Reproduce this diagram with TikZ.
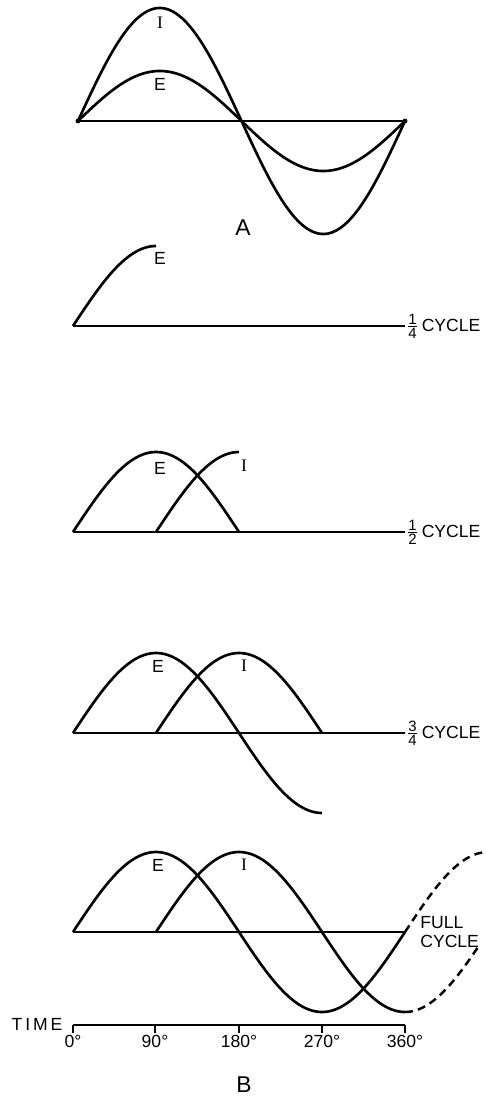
\documentclass[tikz,border=0pt]{standalone}
\usepackage{fontspec}
\setmainfont{Liberation Sans}
\newfontfamily\serifI{Liberation Serif}
\usetikzlibrary{positioning}
\newcommand{\cycfrac}[2]{$\frac{\mbox{\fontsize{8.5}{8.5}\selectfont #1}}{\mbox{\fontsize{8.5}{8.5}\selectfont #2}}$}

\begin{document}
\begin{tikzpicture}[x=0.02cm,y=-0.02cm,
  wave/.style={line width=1.5pt,line join=round},
  ext/.style={line width=1.4pt,dash pattern=on 4.5pt off 3pt},
  axisln/.style={line width=1pt},
  lab/.style={font=\fontsize{10}{10.5}\selectfont,inner sep=0pt},
  big/.style={font=\fontsize{13}{13}\selectfont,inner sep=0pt},
  cyc/.style={lab,anchor=west,align=left}
]
\useasboundingbox (0,0) rectangle (485,1097);

% A: E and I in phase
\coordinate (a0) at (78,121);
\coordinate (a1) at (405,121);
\draw[axisln] (a0) -- (a1);
\fill (a0) circle[radius=1.4pt];
\fill (a1) circle[radius=1.4pt];
\draw[wave] plot[domain=0:360,samples=73,smooth] ({78+\x*0.90833},{121-113*sin(\x)});
\draw[wave] plot[domain=0:360,samples=73,smooth] ({78+\x*0.90833},{121-50*sin(\x)});
\node[lab] (iA) at (160,23) {\serifI I};
\node[lab] (eA) at (160,84) {E};
\node[big] (capA) at (243,228) {A};

% B: quarter cycle
\coordinate (q0) at (73,326);
\coordinate (q1) at (405,326);
\draw[axisln] (q0) -- (q1);
\draw[wave] plot[domain=0:90,samples=19,smooth] ({73+\x*0.92222},{326-80*sin(\x)});
\node[lab] (eQ) at (160,258) {E};
\node[cyc] (cycQ) at (406,326) {\cycfrac14\,CYCLE};

% B: half cycle
\coordinate (h0) at (73,532);
\coordinate (h1) at (405,532);
\draw[axisln] (h0) -- (h1);
\draw[wave] plot[domain=0:180,samples=37,smooth] ({73+\x*0.92222},{532-80*sin(\x)});
\draw[wave] plot[domain=90:180,samples=19,smooth] ({73+\x*0.92222},{532+80*cos(\x)});
\node[lab] (eH) at (160,468) {E};
\node[lab] (iH) at (244,466) {\serifI I};
\node[cyc] (cycH) at (406,532) {\cycfrac12\,CYCLE};

% B: three quarter cycle
\coordinate (t0) at (73,733);
\coordinate (t1) at (405,733);
\draw[axisln] (t0) -- (t1);
\draw[wave] plot[domain=0:270,samples=55,smooth] ({73+\x*0.92222},{733-80*sin(\x)});
\draw[wave] plot[domain=90:270,samples=37,smooth] ({73+\x*0.92222},{733+80*cos(\x)});
\node[lab] (eT) at (158,666) {E};
\node[lab] (iT) at (244,666) {\serifI I};
\node[cyc] (cycT) at (406,733) {\cycfrac34\,CYCLE};

% B: full cycle
\coordinate (f0) at (73,932);
\coordinate (f1) at (405,932);
\draw[axisln] (f0) -- (f1);
\draw[wave] plot[domain=0:360,samples=73,smooth] ({73+\x*0.92222},{932-80*sin(\x)});
\draw[wave] plot[domain=90:360,samples=55,smooth] ({73+\x*0.92222},{932+80*cos(\x)});
\draw[ext] plot[domain=360:444,samples=17,smooth] ({73+\x*0.92222},{932-80*sin(\x)});
\draw[ext] plot[domain=360:441,samples=17,smooth] ({73+\x*0.92222},{932+80*cos(\x)});
\node[lab] (eF) at (158,865) {E};
\node[lab] (iF) at (244,865) {\serifI I};
\node[cyc] (cycF) at (420,932) {FULL\\CYCLE};

% time scale
\coordinate (s0) at (73,1025);
\coordinate (s1) at (405,1025);
\draw[axisln] (s0) -- (s1);
\draw[axisln] (s0) -- ++(0,8) coordinate (k0);
\draw[axisln] (155,1025) coordinate (s90) -- ++(0,8) coordinate (k90);
\draw[axisln] (239,1025) coordinate (s180) -- ++(0,8) coordinate (k180);
\draw[axisln] (322,1025) coordinate (s270) -- ++(0,8) coordinate (k270);
\draw[axisln] (s1) -- ++(0,8) coordinate (k360);
\node[lab,below=1pt of k0] (d0) {0°};
\node[lab,below=1pt of k90] (d90) {90°};
\node[lab,below=1pt of k180] (d180) {180°};
\node[lab,below=1pt of k270] (d270) {270°};
\node[lab,below=1pt of k360] (d360) {360°};
\node[lab] (time) at (37,1024) {T\,I\,M\,E};
\node[big] (capB) at (244,1085) {B};
\end{tikzpicture}
\end{document}
